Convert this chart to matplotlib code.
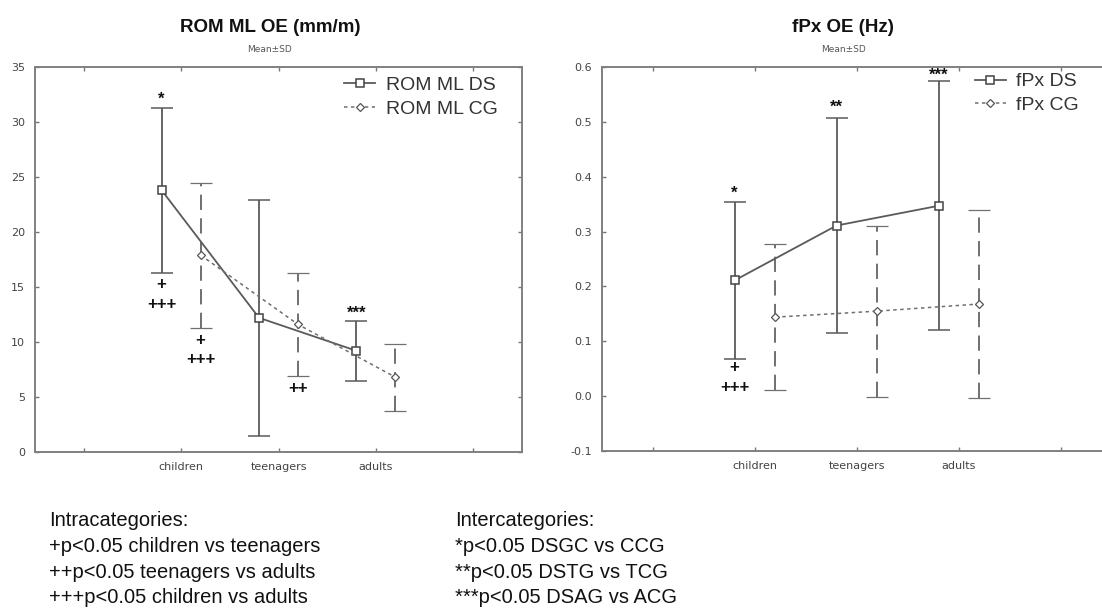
import numpy as np
import matplotlib.pyplot as plt
from matplotlib.lines import Line2D

plt.rcParams['lines.scale_dashes'] = False

groups = ["children", "teenagers", "adults"]

rom_ds_mean = [23.8, 12.2, 9.2]
rom_ds_sd = [7.5, 10.7, 2.7]
rom_cg_mean = [17.9, 11.6, 6.8]
rom_cg_sd = [6.6, 4.7, 3.05]

fpx_ds_mean = [0.211, 0.311, 0.347]
fpx_ds_sd = [0.143, 0.196, 0.227]
fpx_cg_mean = [0.144, 0.155, 0.168]
fpx_cg_sd = [0.133, 0.156, 0.172]

# significance marks: (text, group index, series, y)
rom_marks = [("*", 0, "DS", 32.1), ("+", 0, "DS", 15.2), ("+++", 0, "DS", 13.4),
             ("+", 0, "CG", 10.1), ("+++", 0, "CG", 8.4), ("++", 1, "CG", 5.8),
             ("***", 2, "DS", 12.6)]
fpx_marks = [("*", 0, "DS", 0.37), ("**", 1, "DS", 0.526), ("***", 2, "DS", 0.585),
             ("+", 0, "DS", 0.052), ("+++", 0, "DS", 0.016)]

GRAY = "#5a5a5a"
LGRAY = "#707070"
SANS = "Liberation Sans"
off = {"DS": -0.2, "CG": 0.2}
ds_style = dict(color=GRAY, lw=1.3, marker="s", ms=5.5, mfc="white",
                mec="#444444", mew=1.1)
cg_style = dict(color=LGRAY, lw=1.1, ls=(0, (2.5, 2.5)), marker="D", ms=3.8,
                mfc="white", mec="#555555", mew=0.9)


def panel(ax, ds_m, ds_s, cg_m, cg_s, names, ylim, yticks, fmt, xmax, marks):
    x = np.arange(1, len(groups) + 1)
    ax.errorbar(x + off["DS"], ds_m, yerr=ds_s, capsize=8, capthick=1.3,
                zorder=3, **ds_style)
    cg = ax.errorbar(x + off["CG"], cg_m, yerr=cg_s, capsize=8, capthick=1.3,
                     zorder=3, **cg_style)
    for bars in cg[2]:
        bars.set_linestyle((0, (11, 6)))
        bars.set_linewidth(1.4)
    for txt, gi, ser, yv in marks:
        ax.text(gi + 1 + off[ser], yv, txt, ha="center", va="center",
                fontsize=12, fontweight="bold", family=SANS, color="#111111")
    ax.set_xlim(-0.5, xmax)
    ax.set_ylim(*ylim)
    ax.set_xticks(range(0, 5))
    ax.set_xticklabels([""] + groups + [""])
    ax.set_yticks(yticks)
    ax.set_yticklabels([fmt.format(v) for v in yticks])
    ax.tick_params(direction="in", length=3, width=1, color="#777777",
                   labelsize=8, labelcolor="#444444", top=True, right=True, pad=7)
    for s in ax.spines.values():
        s.set_color("#808080")
        s.set_linewidth(1.4)
    handles = [Line2D([], [], **ds_style), Line2D([], [], **cg_style)]
    return handles


fig = plt.figure(figsize=(11.02, 6.10), dpi=100)
W, H = 1102, 610
ax1 = fig.add_axes([35 / W, (H - 452) / H, 487 / W, 385 / H])
ax2 = fig.add_axes([602 / W, (H - 451) / H, 500 / W, 384 / H])

h1 = panel(ax1, rom_ds_mean, rom_ds_sd, rom_cg_mean, rom_cg_sd,
           ["ROM ML DS", "ROM ML CG"], (0, 35), list(range(0, 36, 5)), "{:g}",
           4.5, rom_marks)
h2 = panel(ax2, fpx_ds_mean, fpx_ds_sd, fpx_cg_mean, fpx_cg_sd,
           ["fPx DS", "fPx CG"], (-0.1, 0.6),
           [-0.1, 0.0, 0.1, 0.2, 0.3, 0.4, 0.5, 0.6], "{:.1f}",
           -0.5 + 500 / 102, fpx_marks)
ax2.spines["right"].set_visible(False)
ax2.tick_params(right=False)

for ax, hs, names, anchor in ((ax1, h1, ["ROM ML DS", "ROM ML CG"], (0.635, 0.975)),
                              (ax2, h2, ["fPx DS", "fPx CG"], (0.745, 0.985))):
    ax.legend(hs, names, loc="upper left", bbox_to_anchor=anchor, frameon=False,
              prop={"family": SANS, "size": 14}, labelcolor="#333333",
              handlelength=1.6, handletextpad=0.55, borderpad=0,
              borderaxespad=0, labelspacing=0.3)

fig.text(270 / W, 1 - 28 / H, "ROM ML OE (mm/m)", ha="center", va="center",
         fontsize=13.5, fontweight="bold", family=SANS, color="#111111")
fig.text(270 / W, 1 - 49 / H, "Mean±SD", ha="center", va="center",
         fontsize=6.5, color="#555555")
fig.text(843 / W, 1 - 28 / H, "fPx OE (Hz)", ha="center", va="center",
         fontsize=13.5, fontweight="bold", family=SANS, color="#111111")
fig.text(843 / W, 1 - 49 / H, "Mean±SD", ha="center", va="center",
         fontsize=6.5, color="#555555")

intra = ["Intracategories:", "+p<0.05 children vs teenagers",
         "++p<0.05 teenagers vs adults", "+++p<0.05 children vs adults"]
inter = ["Intercategories:", "*p<0.05 DSGC vs CCG",
         "**p<0.05 DSTG vs TCG", "***p<0.05 DSAG vs ACG"]
for i, (a, b) in enumerate(zip(intra, inter)):
    yy = 1 - (521 + i * 25.5) / H
    fig.text(49 / W, yy, a, ha="left", va="center", fontsize=14.5,
             family=SANS, color="#111111")
    fig.text(455 / W, yy, b, ha="left", va="center", fontsize=14.5,
             family=SANS, color="#111111")

fig.savefig("out.png", dpi=100)
